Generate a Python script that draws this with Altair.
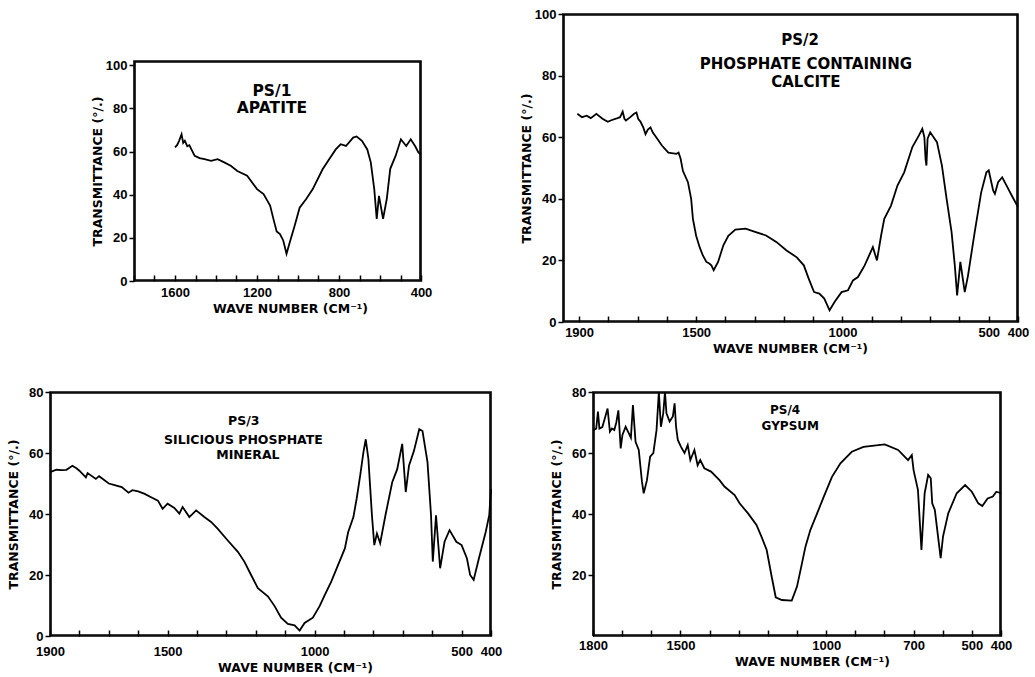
import altair as alt
import pandas as pd

# ---------------- data ----------------
p1_wave = [1600, 1590, 1580, 1568, 1560, 1552, 1540, 1530, 1520, 1504, 1480, 1456, 1424, 1392, 1360,
           1328, 1296, 1248, 1200, 1168, 1136, 1120, 1104, 1088, 1072, 1056, 1040, 1016, 992, 960,
           928, 880, 848, 816, 792, 766, 731, 714, 688, 662, 645, 628, 616, 605, 585,
           567, 550, 524, 498, 472, 450, 429, 412, 400]
p1_t = [62, 63, 65, 68, 64, 65, 62.5, 63, 61, 58, 57, 56.5, 55.7, 56.5, 55,
        53.4, 51, 48.8, 42.6, 40.3, 35, 28.8, 23, 21.8, 18.8, 12.6, 18, 25.7, 34, 38,
        42.6, 51.8, 56.5, 61, 63.4, 62.6, 66.5, 67, 65, 61, 55, 42.6, 28.8, 39.5, 28.8,
        38, 52, 58, 65.7, 62.6, 65.7, 62.6, 59.5, 58.8]

p2_wave = [1906, 1890, 1874, 1860, 1841, 1820, 1802, 1790, 1774, 1760, 1751, 1745, 1740, 1725, 1712,
           1704, 1698, 1690, 1680, 1673, 1665, 1656, 1648, 1640, 1617, 1595, 1567, 1560, 1553, 1545,
           1528, 1517, 1511, 1500, 1488, 1477, 1465, 1455, 1448, 1440, 1425, 1407, 1390, 1366, 1331,
           1296, 1261, 1226, 1191, 1156, 1132, 1115, 1097, 1079, 1062, 1044, 1027, 1003, 981, 964,
           947, 924, 896, 882, 868, 857, 834, 812, 789, 761, 739, 727, 720, 716, 713,
           709, 700, 677, 660, 644, 627, 616, 608, 597, 582, 571, 548, 526, 508, 500,
           485, 479, 468, 454, 439, 421, 400]
p2_t = [67.6, 66.5, 67, 66.2, 67.6, 66, 65, 65.5, 66, 66.5, 68.3, 66, 65.4, 66.5, 67.6,
        68, 66, 65, 63, 61, 62.5, 63.2, 61.5, 60.5, 57.3, 55, 54.6, 55, 53, 49,
        45.4, 40, 33.5, 28, 24.3, 21.6, 19.5, 19, 18.4, 16.8, 19.5, 24.9, 28, 30, 30.3,
        29.2, 28.1, 26, 23.2, 21, 18.4, 14, 9.7, 9.2, 7.6, 3.8, 6.5, 9.7, 10.3, 13.5,
        14.6, 18.4, 24.3, 20, 28, 33.5, 37.8, 44.3, 48.6, 56.8, 60.5, 62.7, 60, 53, 50.8,
        59.5, 61.6, 58.4, 50.8, 40, 29.2, 18.4, 8.6, 19.5, 9.7, 15, 29.2, 42, 48.6, 49.2,
        42.7, 41.6, 45.4, 47, 44.3, 41, 37.3]

p3_wave = [1900, 1878, 1860, 1844, 1824, 1810, 1800, 1778, 1772, 1744, 1733, 1700, 1680, 1656, 1633,
           1620, 1600, 1578, 1556, 1533, 1517, 1500, 1477, 1460, 1449, 1426, 1403, 1375, 1352, 1330,
           1296, 1261, 1239, 1216, 1193, 1159, 1136, 1114, 1091, 1068, 1051, 1034, 1006, 983, 966,
           943, 920, 897, 886, 868, 857, 845, 834, 826, 817, 805, 797, 788, 777, 759,
           736, 719, 702, 690, 679, 662, 644, 633, 616, 604, 598, 587, 573, 558, 541,
           518, 500, 482, 471, 459, 441, 418, 406, 400]
p3_t = [53.7, 54.5, 54.4, 54.5, 55.8, 55, 54.2, 52, 53.4, 51.5, 52.4, 50, 49.5, 48.8, 47,
        47.8, 47.4, 46.6, 45.5, 44.4, 41.7, 43.4, 42, 40.1, 42.3, 39, 41.2, 39, 37.4, 35.2,
        31.4, 27.6, 24.4, 20, 15.7, 13, 9.8, 6, 4, 3.5, 1.8, 4.3, 6, 9.8, 13.3,
        17.9, 23.3, 28.7, 34, 39, 45, 52.6, 60.2, 64.5, 58, 39.6, 29.8, 33.6, 30.4, 39.6,
        50.4, 54.7, 63, 47.2, 55.8, 60.7, 67.8, 67.2, 57, 39.6, 24.4, 39.6, 22.2, 30.9, 34.7,
        30.9, 29.8, 25.5, 20, 18.4, 25.5, 34.1, 39.6, 48.2]

p4_wave = [1800, 1789, 1783, 1778, 1768, 1761, 1750, 1742, 1735, 1727, 1720, 1713, 1705, 1699, 1688,
           1677, 1670, 1663, 1654, 1643, 1632, 1626, 1615, 1604, 1593, 1582, 1574, 1567, 1559, 1553,
           1548, 1537, 1526, 1520, 1515, 1509, 1498, 1486, 1475, 1466, 1452, 1441, 1432, 1418, 1395,
           1366, 1349, 1314, 1297, 1268, 1239, 1222, 1204, 1187, 1173, 1152, 1118, 1100, 1083, 1071,
           1054, 1031, 1008, 980, 951, 912, 872, 799, 753, 719, 706, 700, 685, 673, 662,
           650, 641, 636, 627, 616, 607, 599, 581, 552, 523, 500, 478, 464, 446, 428,
           416, 400]
p4_t = [67.5, 68, 73.6, 68, 68.5, 70.8, 74.6, 67, 68, 67.5, 70, 74, 61.5, 65.9, 68.6,
        66.4, 65, 75.7, 63.7, 61, 50.6, 46.8, 51, 58.8, 60, 67.5, 80, 68.6, 73, 80,
        73, 70.3, 72, 76.3, 68.6, 64.3, 62, 60, 62.6, 57.7, 61, 56, 57.7, 55, 53.9,
        51.1, 49, 46.2, 43.5, 40.2, 36.4, 32.6, 28.2, 19.5, 12.7, 11.8, 11.6, 16.2, 23.8, 29.3,
        34.8, 40.2, 45.7, 52.2, 56.6, 60.4, 62, 62.8, 61, 57.7, 59.3, 54.4, 47.9, 28.2, 46.8,
        52.8, 51.7, 43.5, 41.3, 32.6, 25.5, 32.6, 40.2, 46.8, 49.5, 47.3, 43.5, 42.6, 45.1, 45.7,
        47.3, 46.8]

# axis ticks / labels
p1_xticks = list(range(1800, 399, -100))
p1_xlabels = [1600, 1200, 800, 400]
p1_yticks = [0, 20, 40, 60, 80, 100]

p2_xticks = list(range(1900, 399, -100))
p2_xlabels = [1900, 1500, 1000, 500, 400]
p2_yticks = [0, 20, 40, 60, 80, 100]

p3_xticks = list(range(1900, 399, -100))
p3_xlabels = [1900, 1500, 1000, 500, 400]
p3_yticks = [0, 20, 40, 60, 80]

p4_xticks = list(range(1800, 399, -100))
p4_xlabels = [1800, 1500, 1000, 700, 500, 400]
p4_yticks = [20, 40, 60, 80]

# annotation text (wave number, transmittance, text, font size)
p1_notes = [(1127, 88, "PS/1", 15.5), (1127, 80, "APATITE", 15.5)]
p2_notes = [(1145, 91.6, "PS/2", 15), (1125, 83.8, "PHOSPHATE CONTAINING", 15), (1125, 77.9, "CALCITE", 15)]
p3_notes = [(1241, 70.5, "PS/3", 12.5), (1242, 64.3, "SILICIOUS PHOSPHATE", 12.5), (1227, 59.3, "MINERAL", 12.5)]
p4_notes = [(1141, 74.1, "PS/4", 12), (1123, 68.9, "GYPSUM", 12)]

X_TITLE = "WAVE NUMBER (CM\u207b\u00b9)"
Y_TITLE = "TRANSMITTANCE (\u00b0/.)"
TEXT_FONT = "DejaVu Sans"
LABEL_FONT = "Liberation Sans"
MARGIN = 4  # empty room kept round every frame inside its cell


def make_panel(wave, t, xdom, ydom, w, h, inset_x, inset_y, xticks, xlabels, yticks,
               title_x, xlabel_pad, ytitle_pad, notes):
    """w, h: size of the drawn frame; inset_x / inset_y: extra room left / above it in the cell."""
    df = pd.DataFrame({"wn": wave, "t": t, "k": list(range(len(wave)))})
    left = inset_x + MARGIN
    top = inset_y + MARGIN
    vw, vh = left + w + MARGIN, top + h + MARGIN
    expr = "indexof([" + ",".join(str(v) for v in xlabels) + "], datum.value) >= 0 ? datum.label : ''"
    xscale = alt.Scale(domain=xdom, reverse=True, nice=False, zero=False, range=[left, left + w])
    yscale = alt.Scale(domain=ydom, nice=False, zero=False, range=[top + h, top])
    x = alt.X("wn:Q", scale=xscale,
              axis=alt.Axis(values=xticks, labelExpr=expr, format="d", title=X_TITLE,
                            offset=-(MARGIN + 6), tickSize=6, domain=False, grid=False,
                            labelOverlap=False, labelFlush=False, labelPadding=xlabel_pad,
                            titlePadding=3, titleX=title_x + left))
    y = alt.Y("t:Q", scale=yscale,
              axis=alt.Axis(values=yticks, format="d", title=Y_TITLE, tickSize=5, offset=-left,
                            domain=False, grid=False, labelPadding=2, titlePadding=ytitle_pad))
    # frame: closed path through the corners of the domain, plus a second path
    # pulled one pixel inwards so that the top and right sides show for sure
    dx = (xdom[1] - xdom[0]) / w
    dy = (ydom[1] - ydom[0]) / h
    corners = pd.DataFrame({
        "wn": [xdom[1], xdom[0], xdom[0], xdom[1], xdom[1],
               xdom[1] - dx, xdom[0] + dx, xdom[0] + dx, xdom[1] - dx, xdom[1] - dx],
        "t": [ydom[0], ydom[0], ydom[1], ydom[1], ydom[0],
              ydom[0] + dy, ydom[0] + dy, ydom[1] - dy, ydom[1] - dy, ydom[0] + dy],
        "k": list(range(10)),
        "ring": [0] * 5 + [1] * 5,
    })
    frame = alt.Chart(corners).mark_line(color="black", strokeWidth=1.6, strokeJoin="miter").encode(
        x=x, y=y, order=alt.Order("k:Q"), detail="ring:N")
    line = alt.Chart(df).mark_line(color="black", strokeWidth=1.8).encode(
        x=x, y=y, order=alt.Order("k:Q"))
    layers = [line]
    for xv, yv, txt, fs in notes:
        note_df = pd.DataFrame({"wn": [xv], "t": [yv], "txt": [txt]})
        layers.append(
            alt.Chart(note_df).mark_text(fontSize=fs, font=TEXT_FONT, fontWeight="bold",
                                         color="black", align="center", baseline="middle").encode(
                x=x, y=y, text="txt:N"))
    layers.append(frame)
    return alt.layer(*layers).properties(width=vw, height=vh)


p1 = make_panel(p1_wave, p1_t, [400, 1800], [0, 102], 287, 220, 14, 6, p1_xticks, p1_xlabels,
                p1_yticks, 156, 5, 1, p1_notes)
p2 = make_panel(p2_wave, p2_t, [400, 1955], [0, 100], 455, 308, 0, 0, p2_xticks, p2_xlabels,
                p2_yticks, 227, 4, 1, p2_notes)
p3 = make_panel(p3_wave, p3_t, [400, 1900], [0, 80], 441, 244, 0, 0, p3_xticks, p3_xlabels,
                p3_yticks, 245, 9, 8, p3_notes)
p4 = make_panel(p4_wave, p4_t, [400, 1800], [0, 80], 408, 244, 30, 0, p4_xticks, p4_xlabels,
                p4_yticks, 219, 3, 8, p4_notes)

chart = alt.concat(
    p1, p2, p3, p4, columns=2, spacing={"row": 70 - 2 * MARGIN, "column": 72 - 2 * MARGIN},
    center=True, bounds="flush"
).properties(
    padding={"left": 7, "top": 7, "right": 0, "bottom": 0}, background="white"
).configure_view(
    stroke="transparent"
).configure_axis(
    labelFont=LABEL_FONT, labelFontSize=13, labelFontWeight="bold", labelColor="black",
    titleFont=TEXT_FONT, titleFontSize=12.5, titleFontWeight="bold", titleColor="black",
    tickColor="black", tickWidth=1.5
)

chart.save("out.html", embed_options={"renderer": "svg", "actions": False})
